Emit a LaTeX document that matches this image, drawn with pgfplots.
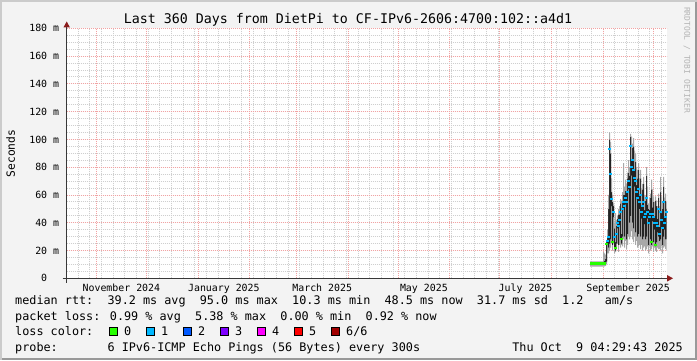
\documentclass[border=0pt]{standalone}
\usepackage{fontspec}
\setmainfont{DejaVu Sans Mono}
\usepackage{pgfplots}
\pgfplotsset{compat=1.18}
\usepackage{pgfplotstable}
\definecolor{bgc}{HTML}{F3F3F3}
\definecolor{shadea}{HTML}{CBCBCB}
\definecolor{shadeb}{HTML}{999999}
\definecolor{mgridc}{HTML}{F2A3A3}
\definecolor{gridc}{HTML}{CFCFCF}
\definecolor{axc}{HTML}{383838}
\definecolor{arrc}{HTML}{8C1C1C}
\definecolor{smokel}{HTML}{A8A8A8}
\definecolor{smoked}{HTML}{222222}
\definecolor{l0}{HTML}{26FF00}
\definecolor{l1}{HTML}{00B8FF}
\definecolor{l2}{HTML}{0059FF}
\definecolor{l3}{HTML}{7E00FF}
\definecolor{l4}{HTML}{FF00FF}
\definecolor{l5}{HTML}{FF0000}
\definecolor{l6}{HTML}{A10000}
\definecolor{wmc}{HTML}{B4B4B4}
\newcommand\legfont{\fontsize{11.8bp}{14bp}\selectfont}
\newcommand\titfont{\fontsize{13.3bp}{16bp}\selectfont}
\newcommand\axfont{\fontsize{9.9bp}{12bp}\selectfont}

\pgfplotstableread{
x lo dlo dhi hi
314.0 8.4 9.6 11.4 12.2
321.8 8.4 9.8 12.0 19.0
322.4 8.6 10.0 12.5 18.0
323.0 9.0 10.5 14.0 17.0
323.6 10 12 26 27
324.2 18 24 30 35
324.8 18 22 50 60
325.4 20 25 100 105
326.0 22 28 90 98
326.6 26 52 62 72
327.2 20 24 55 60
327.8 26 44 52 54
328.4 18 22 36 40
329.0 19 20 26 47
329.6 21 25 38 42
330.2 25 36 43 45
330.8 19 24 46 50
331.4 24 38 46 52
332.0 22 28 54 57
332.6 24 25 32 56
333.2 23 30 55 62
333.8 28 50 60 83
334.4 22 30 60 66
335.0 27 53 63 71
335.6 21 28 62 68
336.2 24 32 72 76
336.8 30 64 76 85
337.4 28 40 74 80
338.0 30 45 102 104
338.6 34 74 86 102
339.2 28 40 94 97
339.8 26 36 95 101
340.4 30 66 78 92
341.0 24 33 84 90
341.6 27 57 67 80
342.2 22 30 72 78
342.8 23 32 78 83
343.4 24 50 60 72
344.0 21 30 72 78
344.6 24 43 53 64
345.2 20 28 64 68
345.8 22 30 68 73
346.4 23 39 49 60
347.0 20 28 56 59
347.6 21 30 74 80
348.2 23 43 53 66
348.8 18 24 50 54
349.4 23 39 49 58
350.0 20 28 58 61
350.6 21 24 64 71
351.2 23 41 51 64
351.8 19 26 55 59
352.4 22 35 45 55
353.0 20 23 56 59
353.6 19 26 52 56
354.2 22 33 43 52
354.8 21 30 58 61
355.4 21 27 37 52
356.0 20 28 62 73
356.6 23 37 47 59
357.2 18 24 50 55
357.8 22 30 66 73
358.4 23 35 45 58
359.0 21 28 56 61
359.6 20 28 50 55
360.2 20 28 50 55
}\smoke

\pgfplotstableread{
x med
324.2 27
324.8 30
325.4 93
326.0 75
326.6 57
327.8 48
328.4 30
329.6 32
330.2 40
330.8 38
331.4 42
332.0 48
333.2 50
333.8 55
334.4 52
335.0 58
335.6 55
336.2 62
336.8 70
337.4 66
338.0 95
338.6 80
339.2 85
339.8 78
340.4 72
341.0 70
341.6 62
342.2 58
342.8 64
343.4 55
344.0 60
344.6 48
345.2 52
345.8 55
346.4 44
347.0 46
347.6 58
348.2 48
348.8 40
349.4 44
350.0 46
351.2 46
351.8 44
352.4 40
353.6 40
354.2 38
354.8 50
355.4 32
356.0 48
356.6 42
357.2 36
357.8 55
358.4 40
359.0 44
359.6 48
}\medcyan

\pgfplotstableread{
x med
323.6 25
327.2 26
329.0 22
332.6 28
350.6 26
353.0 24
}\medgreen

\pgfplotstableread{
x med
314.0 10.6
323.6 10.6
}\medflat

\begin{document}
\begin{tikzpicture}[x=1bp,y=1bp]
\fill[bgc] (0,0) rectangle (697,360);
\fill[shadea] (0,0) rectangle (2,360);
\fill[shadea] (0,358) rectangle (697,360);
\fill[shadeb] (695,0) rectangle (697,358);
\fill[shadeb] (2,0) rectangle (697,2);
\fill[white] (66.7,81.7) rectangle (666.7,331.7);
\begin{axis}[
  at={(66.7bp,81.7bp)}, anchor=south west,
  width=600bp, height=250bp, scale only axis,
  xmin=0, xmax=360, ymin=0, ymax=180,
  axis line style={draw=none},
  major tick length=0pt, minor tick length=0pt,
  xtick={17.81,47.81,78.81,109.81,137.81,168.81,198.81,229.81,259.81,290.81,321.81,351.81},
  xticklabel=\empty,
  minor xtick={6.81,13.81,...,356.81},
  extra x ticks={32.8,94.3,153.3,214.3,275.3,336.8},
  extra x tick labels={November 2024,January 2025,March 2025,May 2025,July 2025,September 2025},
  extra x tick style={grid=none, xticklabel style={anchor=base, inner sep=0pt, yshift=-13bp, font=\axfont}},
  ytick={0,20,...,180},
  yticklabels={0\hphantom{~m},20 m,40 m,60 m,80 m,100 m,120 m,140 m,160 m,180 m},
  yticklabel style={anchor=base east, inner sep=0pt, xshift=-7.4bp, yshift=-3.6bp, font=\axfont},
  minor ytick={5,10,...,175},
  grid=both,
  major grid style={draw=mgridc, line width=0.9bp, dash pattern=on 1bp off 1bp},
  minor grid style={draw=gridc, line width=0.9bp, dash pattern=on 1bp off 1bp},
]
% smoke: stacked bands lo | lo..dlo (light) | dlo..dhi (dark) | dhi..hi (light)
\addplot[draw=none, fill=none, stack plots=y, const plot mark left] table[x=x, y=lo] {\smoke};
\addplot[draw=none, fill=smokel, stack plots=y, const plot mark left] table[x=x, y expr=\thisrow{dlo}-\thisrow{lo}] {\smoke} \closedcycle;
\addplot[draw=none, fill=smoked, stack plots=y, const plot mark left] table[x=x, y expr=\thisrow{dhi}-\thisrow{dlo}] {\smoke} \closedcycle;
\addplot[draw=none, fill=smokel, stack plots=y, const plot mark left] table[x=x, y expr=\thisrow{hi}-\thisrow{dhi}] {\smoke} \closedcycle;
\addplot[l0, line width=2.5bp, const plot mark left, stack plots=false] table[x=x, y=med] {\medflat};
\addplot[only marks, stack plots=false, mark=-, mark size=1.2bp, mark options={line width=2bp, draw=l1, xshift=0.5bp}] table[x=x, y=med] {\medcyan};
\addplot[only marks, stack plots=false, mark=-, mark size=1.2bp, mark options={line width=2bp, draw=l0, xshift=0.5bp}] table[x=x, y=med] {\medgreen};
\end{axis}
% axes
\draw[axc, line width=1bp] (66.7,77.5) -- (66.7,334);
\draw[axc, line width=1bp] (62.5,81.7) -- (668,81.7);
\fill[arrc] (66.7,338.5) -- (63.4,332.5) -- (70.0,332.5) -- cycle;
\fill[arrc] (673,81.7) -- (667,78.4) -- (667,85.0) -- cycle;
% title and labels
\node[anchor=base, inner sep=0pt, font=\titfont] at (348,336.1) {Last 360 Days from DietPi to CF-IPv6-2606:4700:102::a4d1};
\node[rotate=90, inner sep=0pt, font=\fontsize{11.3bp}{13bp}\selectfont] at (10.7,206.5) {Seconds};
\node[rotate=-90, inner sep=0pt, text=wmc, font=\fontsize{8bp}{9bp}\selectfont] at (687,300) {RRDTOOL / TOBI OETIKER};
% legend
\node[anchor=base west, inner sep=0pt, font=\legfont] at (15,55.7) {median rtt:~~39.2 ms avg~~95.0 ms max~~10.3 ms min~~48.5 ms now~~31.7 ms sd~~1.2~~~am/s};
\node[anchor=base west, inner sep=0pt, font=\legfont] at (15,39.7) {packet loss: 0.99 \% avg~~5.38 \% max~~0.00 \% min~~0.92 \% now};
\node[anchor=base west, inner sep=0pt, font=\legfont] at (15,24.3) {loss color:};
\foreach \c/\t [count=\i from 0] in {l0/0,l1/1,l2/2,l3/3,l4/4,l5/5,l6/6\slash 6}{
  \filldraw[fill=\c, draw=black, line width=0.7bp] (109+37*\i,24.3) rectangle ++(8.4,8.4);
  \node[anchor=base west, inner sep=0pt, font=\legfont] at (124+37*\i,24.3) {\t};
}
\node[anchor=base west, inner sep=0pt, font=\legfont] at (15,8.7) {probe:~~~~~~~6 IPv6-ICMP Echo Pings (56 Bytes) every 300s};
\node[anchor=base east, inner sep=0pt, font=\legfont] at (683,8.7) {Thu Oct~~9 04:29:43 2025};
\end{tikzpicture}
\end{document}
